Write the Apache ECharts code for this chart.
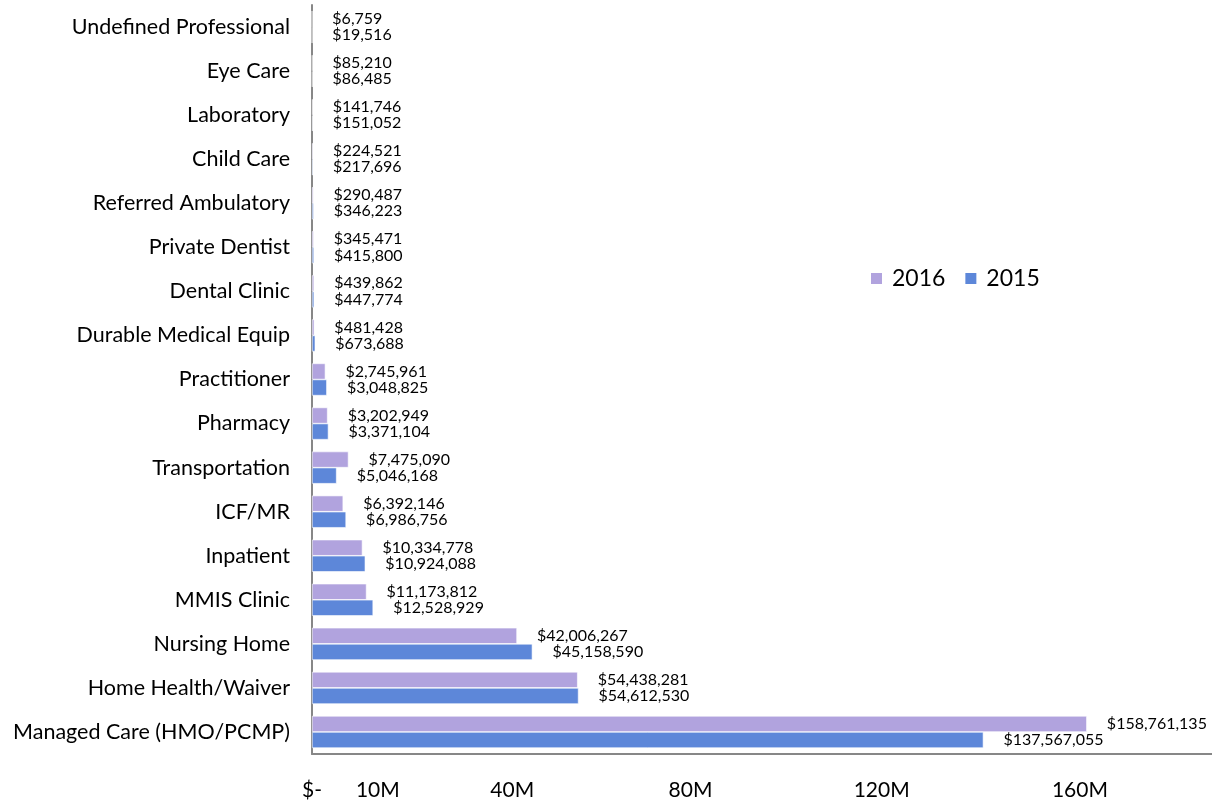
<!DOCTYPE html>
<html>
<head>
<meta charset="utf-8">
<script src="https://cdn.jsdelivr.net/npm/echarts@6/dist/echarts.min.js"></script>
<style>
html,body{margin:0;padding:0;background:#fff;}
#chart{width:1212px;height:804px;}
</style>
</head>
<body>
<div id="chart"></div>
<script>
const categories = [
  "Undefined Professional", "Eye Care", "Laboratory", "Child Care",
  "Referred Ambulatory", "Private Dentist", "Dental Clinic", "Durable Medical Equip",
  "Practitioner", "Pharmacy", "Transportation", "ICF/MR", "Inpatient",
  "MMIS Clinic", "Nursing Home", "Home Health/Waiver", "Managed Care (HMO/PCMP)"
];
const values2016 = [
  6759, 85210, 141746, 224521, 290487, 345471, 439862, 481428,
  2745961, 3202949, 7475090, 6392146, 10334778, 11173812, 42006267, 54438281, 158761135
];
const values2015 = [
  19516, 86485, 151052, 217696, 346223, 415800, 447774, 673688,
  3048825, 3371104, 5046168, 6986756, 10924088, 12528929, 45158590, 54612530, 137567055
];
const seriesNames = ["2016", "2015"];
const tickLabels = { 0: "$-", 10000000: "10M", 40000000: "40M", 80000000: "80M", 120000000: "120M", 160000000: "160M" };

const FONT = "Lato";
function money(v) { return "$" + v.toLocaleString("en-US"); }
const shiftStyle = {
  0: "z", 10000000: "r34", 40000000: "r10", 80000000: "l24", 120000000: "l32", 160000000: "l26"
};
const rich = {
  z: { fontSize: 21, fontFamily: FONT, color: "#000" },
  r34: { fontSize: 21, fontFamily: FONT, color: "#000", padding: [0, 0, 0, 34] },
  r10: { fontSize: 21, fontFamily: FONT, color: "#000", padding: [0, 0, 0, 10] },
  l24: { fontSize: 21, fontFamily: FONT, color: "#000", padding: [0, 24, 0, 0] },
  l32: { fontSize: 21, fontFamily: FONT, color: "#000", padding: [0, 32, 0, 0] },
  l26: { fontSize: 21, fontFamily: FONT, color: "#000", padding: [0, 26, 0, 0] }
};

const chart = echarts.init(document.getElementById("chart"), null, { renderer: "canvas" });
const labelOpt = {
  show: true, position: "right", distance: 20,
  fontFamily: FONT, fontSize: 16, color: "#000",
  formatter: p => money(p.value)
};
chart.setOption({
  animation: false,
  textStyle: { fontFamily: FONT },
  legend: {
    data: seriesNames,
    left: 864, top: 262,
    itemWidth: 13, itemHeight: 13, itemGap: 18,
    icon: "rect",
    textStyle: { fontSize: 23, fontFamily: FONT, color: "#000", padding: [0, 0, 0, 4] }
  },
  grid: { left: 312, right: 0, top: 5, bottom: 50, containLabel: false },
  xAxis: {
    type: "value", min: 0, max: 184400000, interval: 10000000,
    splitLine: { show: false },
    axisTick: { show: false },
    axisLine: { show: true, lineStyle: { color: "#878787", width: 2 } },
    axisLabel: {
      margin: 26, showMaxLabel: false,
      formatter: v => tickLabels[v] !== undefined ? "{" + shiftStyle[v] + "|" + tickLabels[v] + "}" : "",
      rich: rich
    }
  },
  yAxis: {
    type: "category", data: categories, inverse: true,
    axisTick: { show: false },
    axisLine: { show: true, lineStyle: { color: "#878787", width: 2 } },
    axisLabel: { fontSize: 21.5, fontFamily: FONT, color: "#000", margin: 22 }
  },
  series: [
    {
      name: seriesNames[0], type: "bar", data: values2016,
      barGap: "0%", barCategoryGap: "27%",
      itemStyle: { color: "#b1a3de", borderColor: "#ffffff", borderWidth: 0.6 },
      label: labelOpt
    },
    {
      name: seriesNames[1], type: "bar", data: values2015,
      barGap: "0%", barCategoryGap: "27%",
      itemStyle: { color: "#5d87d9", borderColor: "#ffffff", borderWidth: 0.6 },
      label: labelOpt
    }
  ]
});
</script>
</body>
</html>
